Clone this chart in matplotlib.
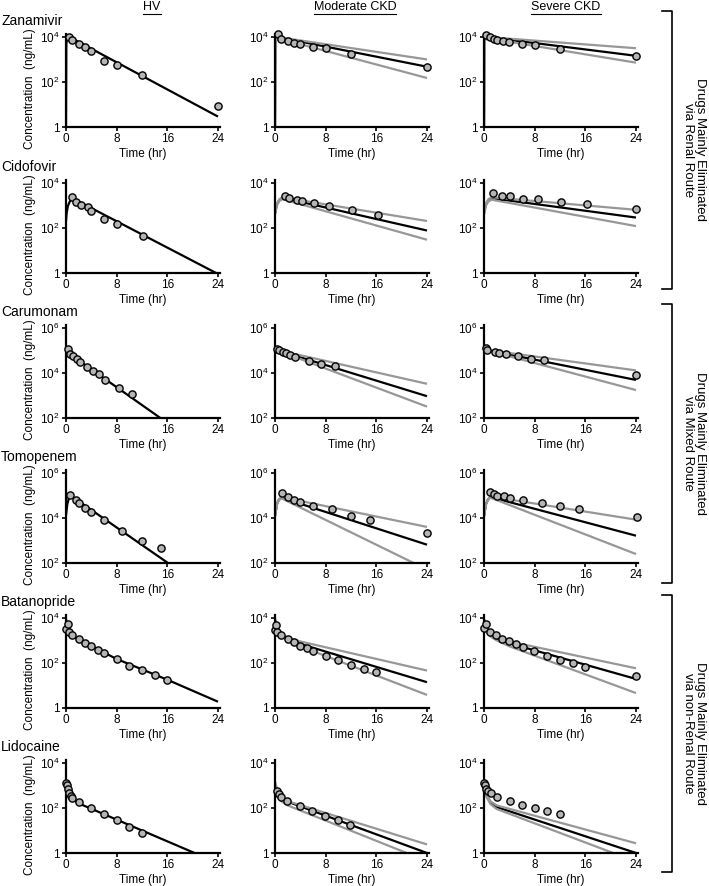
import matplotlib
matplotlib.use("Agg")
import matplotlib.pyplot as plt
from matplotlib.lines import Line2D

plt.rcParams['font.family'] = ['Liberation Sans', 'DejaVu Sans']
plt.rcParams['mathtext.fontset'] = 'custom'
plt.rcParams['mathtext.rm'] = 'Liberation Sans'
plt.rcParams['mathtext.it'] = 'Liberation Sans'

# ---------------- data ----------------
drugs = ["Zanamivir", "Cidofovir", "Carumonam", "Tomopenem", "Batanopride", "Lidocaine"]
groups = ["HV", "Moderate CKD", "Severe CKD"]
route_labels = ["Drugs Mainly Eliminated\nvia Renal Route",
                "Drugs Mainly Eliminated\nvia Mixed Route",
                "Drugs Mainly Eliminated\nvia non-Renal Route"]

# Zanamivir
zan_hv_t = [0.4, 1, 2, 3, 4, 6, 8, 12, 24]
zan_hv_c = [9500, 7000, 5000, 3500, 2300, 830, 570, 200, 8.2]
zan_hv_fit_t = [0, 0.05, 0.25, 24]
zan_hv_fit = [1, 5000, 11000, 2.9]
zan_mod_t = [0.4, 1, 2, 3, 4, 6, 8, 12, 24]
zan_mod_c = [13000, 7800, 6300, 5500, 4800, 3700, 3150, 1740, 475]
zan_mod_fit_t = [0, 0.05, 0.3, 24]
zan_mod_fit = [1, 5000, 10000, 475]
zan_mod_hi = [1, 5000, 10000, 1000]
zan_mod_lo = [1, 5000, 9000, 150]
zan_sev_t = [0.3, 1, 1.5, 2, 3, 4, 6, 8, 12, 24]
zan_sev_c = [12000, 10000, 8100, 7300, 6800, 6100, 5000, 4200, 3000, 1450]
zan_sev_fit_t = [0, 0.05, 0.3, 24]
zan_sev_fit = [1, 5000, 10000, 1450]
zan_sev_hi = [1, 5000, 10000, 3150]
zan_sev_lo = [1, 5000, 9000, 720]

# Cidofovir
cid_hv_t = [1.0, 1.5, 2.3, 3.4, 4.0, 6.0, 8.1, 12.2]
cid_hv_c = [2330, 1480, 1080, 880, 540, 250, 145, 44]
cid_hv_fit_t = [0, 0.1, 0.3, 0.6, 1.0, 23.7]
cid_hv_fit = [200, 450, 950, 1500, 2100, 1]
cid_mod_t = [1.5, 2.2, 3.4, 4.2, 6.1, 8.5, 12.2, 16.3]
cid_mod_c = [2750, 2100, 1820, 1630, 1240, 910, 640, 395]
cid_mod_fit_t = [0, 0.3, 0.7, 1.2, 24]
cid_mod_fit = [450, 1100, 1800, 2200, 77]
cid_mod_hi = [500, 1200, 1900, 2300, 204]
cid_mod_lo = [400, 1000, 1600, 1900, 30]
cid_sev_t = [1.4, 2.9, 4.1, 6.1, 8.6, 12.2, 16.2, 24]
cid_sev_c = [3540, 2570, 2500, 1890, 1890, 1480, 1200, 710]
cid_sev_fit_t = [0, 0.3, 0.7, 1.2, 24]
cid_sev_fit = [450, 1100, 1700, 2100, 290]
cid_sev_hi = [500, 1200, 1900, 2300, 640]
cid_sev_lo = [400, 1000, 1500, 1800, 121]

# Carumonam
car_hv_t = [0.26, 0.63, 1.16, 1.7, 2.2, 3.3, 4.3, 5.2, 6.2, 8.3, 10.4]
car_hv_c = [118000, 71000, 54000, 41000, 32000, 19000, 12000, 9100, 4900, 2200, 1150]
car_hv_fit_t = [0, 14.9]
car_hv_fit = [90000, 100]
car_mod_t = [0.26, 0.7, 1.3, 1.7, 2.3, 3.2, 5.4, 7.3, 9.4]
car_mod_c = [115000, 100000, 87000, 76000, 65000, 52000, 35000, 25000, 20000]
car_mod_fit_t = [0, 24]
car_mod_fit = [110000, 930]
car_mod_hi = [110000, 3300]
car_mod_lo = [110000, 320]
car_sev_t = [0.26, 0.5, 1.7, 2.3, 3.4, 5.3, 7.4, 9.4, 24]
car_sev_c = [123000, 100000, 87000, 81000, 69000, 54000, 42000, 37000, 7900]
car_sev_fit_t = [0, 24]
car_sev_fit = [110000, 4900]
car_sev_hi = [110000, 13000]
car_sev_lo = [110000, 1740]

# Tomopenem
tom_hv_t = [0.7, 1.5, 2.0, 3.0, 4.0, 6.0, 8.9, 12.0, 15.0]
tom_hv_c = [102000, 65000, 44000, 28000, 19000, 7900, 2600, 980, 465]
tom_hv_fit_t = [0, 0.2, 0.45, 0.7, 16.1]
tom_hv_fit = [13000, 40000, 75000, 100000, 100]
tom_mod_t = [1.05, 2.06, 3.06, 3.96, 6.07, 9.07, 12.0, 15.0, 24]
tom_mod_c = [129000, 85000, 61000, 50000, 33000, 24000, 12700, 7900, 2150]
tom_mod_fit_t = [0, 0.3, 0.6, 1.0, 24]
tom_mod_fit = [12000, 40000, 65000, 80000, 650]
tom_mod_hi = [12000, 40000, 65000, 85000, 4000]
tom_mod_lo_t = [0, 0.3, 0.6, 1.0, 21.9]
tom_mod_lo = [12000, 40000, 60000, 75000, 100]
tom_sev_t = [0.95, 1.6, 2.1, 3.2, 4.1, 6.1, 9.1, 12.0, 15.0, 24.1]
tom_sev_c = [138000, 120000, 98000, 91000, 74000, 61000, 46000, 35000, 26000, 11500]
tom_sev_fit_t = [0, 0.3, 0.6, 1.0, 24]
tom_sev_fit = [12000, 40000, 65000, 85000, 1630]
tom_sev_hi = [12000, 40000, 65000, 90000, 8400]
tom_sev_lo = [12000, 40000, 60000, 80000, 250]

# Batanopride
bat_hv_t = [0.05, 0.25, 0.5, 1, 2, 3, 4, 5, 6, 8, 10, 12, 14, 16]
bat_hv_c = [3200, 5400, 2300, 1700, 1170, 770, 550, 365, 280, 150, 76, 47, 29, 18]
bat_hv_fit_t = [0, 0.15, 0.5, 1, 2, 4, 8, 16, 24]
bat_hv_fit = [9000, 4000, 2200, 1600, 1100, 560, 150, 18, 1.9]
bat_mod_t = [0.05, 0.2, 0.3, 0.9, 2, 3, 4, 5, 6, 8, 10, 12, 14, 16]
bat_mod_c = [3000, 4700, 2300, 1700, 1200, 830, 590, 440, 340, 210, 130, 79, 56, 39]
bat_mod_fit_t = [0, 0.3, 1, 2, 4, 24]
bat_mod_fit = [9000, 2800, 1600, 1200, 700, 14]
bat_mod_hi = [9000, 3000, 1800, 1350, 900, 46]
bat_mod_lo = [8000, 2500, 1500, 1000, 550, 3.8]
bat_sev_t = [0.05, 0.26, 0.95, 1.9, 2.9, 4, 5, 6.1, 7.9, 9.9, 12, 14, 16, 24]
bat_sev_c = [3600, 5400, 2300, 1700, 1200, 910, 700, 500, 330, 210, 140, 100, 66, 27]
bat_sev_fit_t = [0, 0.3, 1, 2, 4, 24]
bat_sev_fit = [9000, 2800, 1700, 1200, 750, 19.5]
bat_sev_hi = [9000, 3000, 1800, 1350, 900, 58]
bat_sev_lo = [8000, 2500, 1500, 1000, 550, 4.6]

# Lidocaine
lid_hv_t = [0, 0.1, 0.25, 0.5, 0.75, 1, 2, 4, 6, 8, 10, 12]
lid_hv_c = [1300, 1000, 700, 450, 350, 280, 180, 95, 55, 28, 15, 8]
lid_hv_fit_t = [0, 0.5, 1, 2, 20.3]
lid_hv_fit = [1300, 450, 250, 160, 1]
lid_mod_t = [0.36, 0.65, 1.0, 1.95, 4.0, 5.9, 7.95, 10.0, 11.9]
lid_mod_c = [550, 410, 316, 213, 117, 77, 44, 28, 17]
lid_mod_fit_t = [0, 0.5, 1, 2, 24]
lid_mod_fit = [800, 400, 280, 190, 1]
lid_mod_hi = [1500, 450, 300, 200, 2.4]
lid_mod_lo_t = [0, 0.5, 1, 2, 20.8]
lid_mod_lo = [600, 300, 200, 130, 1]
lid_sev_t = [0, 0.14, 0.36, 0.7, 1.07, 2.07, 4.1, 6.05, 8.0, 10.0, 12.0]
lid_sev_c = [1300, 1000, 720, 570, 440, 316, 205, 138, 100, 72, 52]
lid_sev_fit_t = [0, 0.3, 1, 2, 24]
lid_sev_fit = [1000, 400, 180, 110, 1]
lid_sev_hi = [1100, 450, 200, 130, 2.7]
lid_sev_lo_t = [0, 0.3, 1, 2, 20.4]
lid_sev_lo = [900, 350, 150, 90, 1]

BLACK = "black"
GRAY = "#979797"

panels = [
    [(zan_hv_t, zan_hv_c, [(zan_hv_fit_t, zan_hv_fit, BLACK)]),
     (zan_mod_t, zan_mod_c, [(zan_mod_fit_t, zan_mod_fit, BLACK), (zan_mod_fit_t, zan_mod_hi, GRAY), (zan_mod_fit_t, zan_mod_lo, GRAY)]),
     (zan_sev_t, zan_sev_c, [(zan_sev_fit_t, zan_sev_fit, BLACK), (zan_sev_fit_t, zan_sev_hi, GRAY), (zan_sev_fit_t, zan_sev_lo, GRAY)])],
    [(cid_hv_t, cid_hv_c, [(cid_hv_fit_t, cid_hv_fit, BLACK)]),
     (cid_mod_t, cid_mod_c, [(cid_mod_fit_t, cid_mod_fit, BLACK), (cid_mod_fit_t, cid_mod_hi, GRAY), (cid_mod_fit_t, cid_mod_lo, GRAY)]),
     (cid_sev_t, cid_sev_c, [(cid_sev_fit_t, cid_sev_fit, BLACK), (cid_sev_fit_t, cid_sev_hi, GRAY), (cid_sev_fit_t, cid_sev_lo, GRAY)])],
    [(car_hv_t, car_hv_c, [(car_hv_fit_t, car_hv_fit, BLACK)]),
     (car_mod_t, car_mod_c, [(car_mod_fit_t, car_mod_fit, BLACK), (car_mod_fit_t, car_mod_hi, GRAY), (car_mod_fit_t, car_mod_lo, GRAY)]),
     (car_sev_t, car_sev_c, [(car_sev_fit_t, car_sev_fit, BLACK), (car_sev_fit_t, car_sev_hi, GRAY), (car_sev_fit_t, car_sev_lo, GRAY)])],
    [(tom_hv_t, tom_hv_c, [(tom_hv_fit_t, tom_hv_fit, BLACK)]),
     (tom_mod_t, tom_mod_c, [(tom_mod_fit_t, tom_mod_fit, BLACK), (tom_mod_fit_t, tom_mod_hi, GRAY), (tom_mod_lo_t, tom_mod_lo, GRAY)]),
     (tom_sev_t, tom_sev_c, [(tom_sev_fit_t, tom_sev_fit, BLACK), (tom_sev_fit_t, tom_sev_hi, GRAY), (tom_sev_fit_t, tom_sev_lo, GRAY)])],
    [(bat_hv_t, bat_hv_c, [(bat_hv_fit_t, bat_hv_fit, BLACK)]),
     (bat_mod_t, bat_mod_c, [(bat_mod_fit_t, bat_mod_fit, BLACK), (bat_mod_fit_t, bat_mod_hi, GRAY), (bat_mod_fit_t, bat_mod_lo, GRAY)]),
     (bat_sev_t, bat_sev_c, [(bat_sev_fit_t, bat_sev_fit, BLACK), (bat_sev_fit_t, bat_sev_hi, GRAY), (bat_sev_fit_t, bat_sev_lo, GRAY)])],
    [(lid_hv_t, lid_hv_c, [(lid_hv_fit_t, lid_hv_fit, BLACK)]),
     (lid_mod_t, lid_mod_c, [(lid_mod_fit_t, lid_mod_fit, BLACK), (lid_mod_fit_t, lid_mod_hi, GRAY), (lid_mod_lo_t, lid_mod_lo, GRAY)]),
     (lid_sev_t, lid_sev_c, [(lid_sev_fit_t, lid_sev_fit, BLACK), (lid_sev_fit_t, lid_sev_hi, GRAY), (lid_sev_lo_t, lid_sev_lo, GRAY)])],
]

# y ranges per row: (floor exponent, tick exponents)
row_floor = [0, 0, 2, 2, 0, 0]
row_ticks = [[0, 2, 4], [0, 2, 4], [2, 4, 6], [2, 4, 6], [0, 2, 4], [0, 2, 4]]
x_ticks = [0, 8, 16, 24]

# ---------------- layout ----------------
W, H = 709, 886
fig = plt.figure(figsize=(W / 100, H / 100), dpi=100)

col_left = [66, 275, 484]
row_bottom = [127, 273, 418, 563, 708, 853]
ax_w = 152 * 24.3 / 24
ax_h = 93

for r in range(6):
    for c in range(3):
        obs_t, obs_c, fits = panels[r][c]
        ax = fig.add_axes([col_left[c] / W, 1 - row_bottom[r] / H, ax_w / W, ax_h / H])
        ax.set_yscale("log")
        lo = row_floor[r]
        ax.set_ylim(10 ** lo, 10 ** (lo + 4.13))
        ax.set_xlim(0, 24.3)
        for ft, fc, col in fits:
            ax.plot(ft, fc, color=col, lw=1.6, zorder=2, solid_capstyle="butt")
        ax.plot(obs_t, obs_c, "o", ms=5.2, mfc="#b5b5b5", mec="black", mew=1.0,
                zorder=3, clip_on=False)
        for s in ["top", "right"]:
            ax.spines[s].set_visible(False)
        for s in ["left", "bottom"]:
            ax.spines[s].set_linewidth(1.6)
        ax.set_xticks(x_ticks)
        ax.set_xticklabels([str(v) for v in x_ticks])
        ax.set_yticks([10 ** e for e in row_ticks[r]])
        ax.set_yticklabels(["1" if e == 0 else r"$10^{%d}$" % e for e in row_ticks[r]])
        ax.yaxis.set_minor_locator(matplotlib.ticker.NullLocator())
        ax.tick_params(axis="both", labelsize=8.5, length=3, width=1.2, pad=1.5)
        ax.set_xlabel("Time (hr)", fontsize=8.5, labelpad=2)
        if c == 0:
            yc = 1 - (row_bottom[r] - 38) / H
            fig.text(30 / W, yc, "Concentration  (ng/mL)", rotation=90,
                     ha="center", va="center", fontsize=8.5)
    fig.text(1 / W, 1 - (row_bottom[r] - 106) / H, drugs[r], fontsize=10,
             ha="left", va="center")

# column headers (underlined)
header_x = [152, 355, 566]
headers = []
for hx, g in zip(header_x, groups):
    headers.append(fig.text(hx / W, 1 - 7 / H, g, fontsize=9, ha="center", va="center"))
fig.canvas.draw()
renderer = fig.canvas.get_renderer()
for t in headers:
    bb = t.get_window_extent(renderer)
    y = bb.y0 - 1
    fig.add_artist(Line2D([bb.x0 / W, bb.x1 / W], [y / H] * 2, transform=fig.transFigure,
                          color="black", lw=0.8))

# right brackets
brackets = [(11, 289), (304, 583), (595, 872)]
for (y0, y1), lab in zip(brackets, route_labels):
    xs = [662 / W, 672 / W, 672 / W, 662 / W]
    ys = [1 - y0 / H, 1 - y0 / H, 1 - y1 / H, 1 - y1 / H]
    fig.add_artist(Line2D(xs, ys, transform=fig.transFigure, color="black", lw=1.2))
    fig.text(694 / W, 1 - (y0 + y1) / 2 / H, lab, rotation=270, ha="center", va="center",
             fontsize=9.5, multialignment="center", linespacing=0.95)

fig.savefig("out.png", dpi=100)
